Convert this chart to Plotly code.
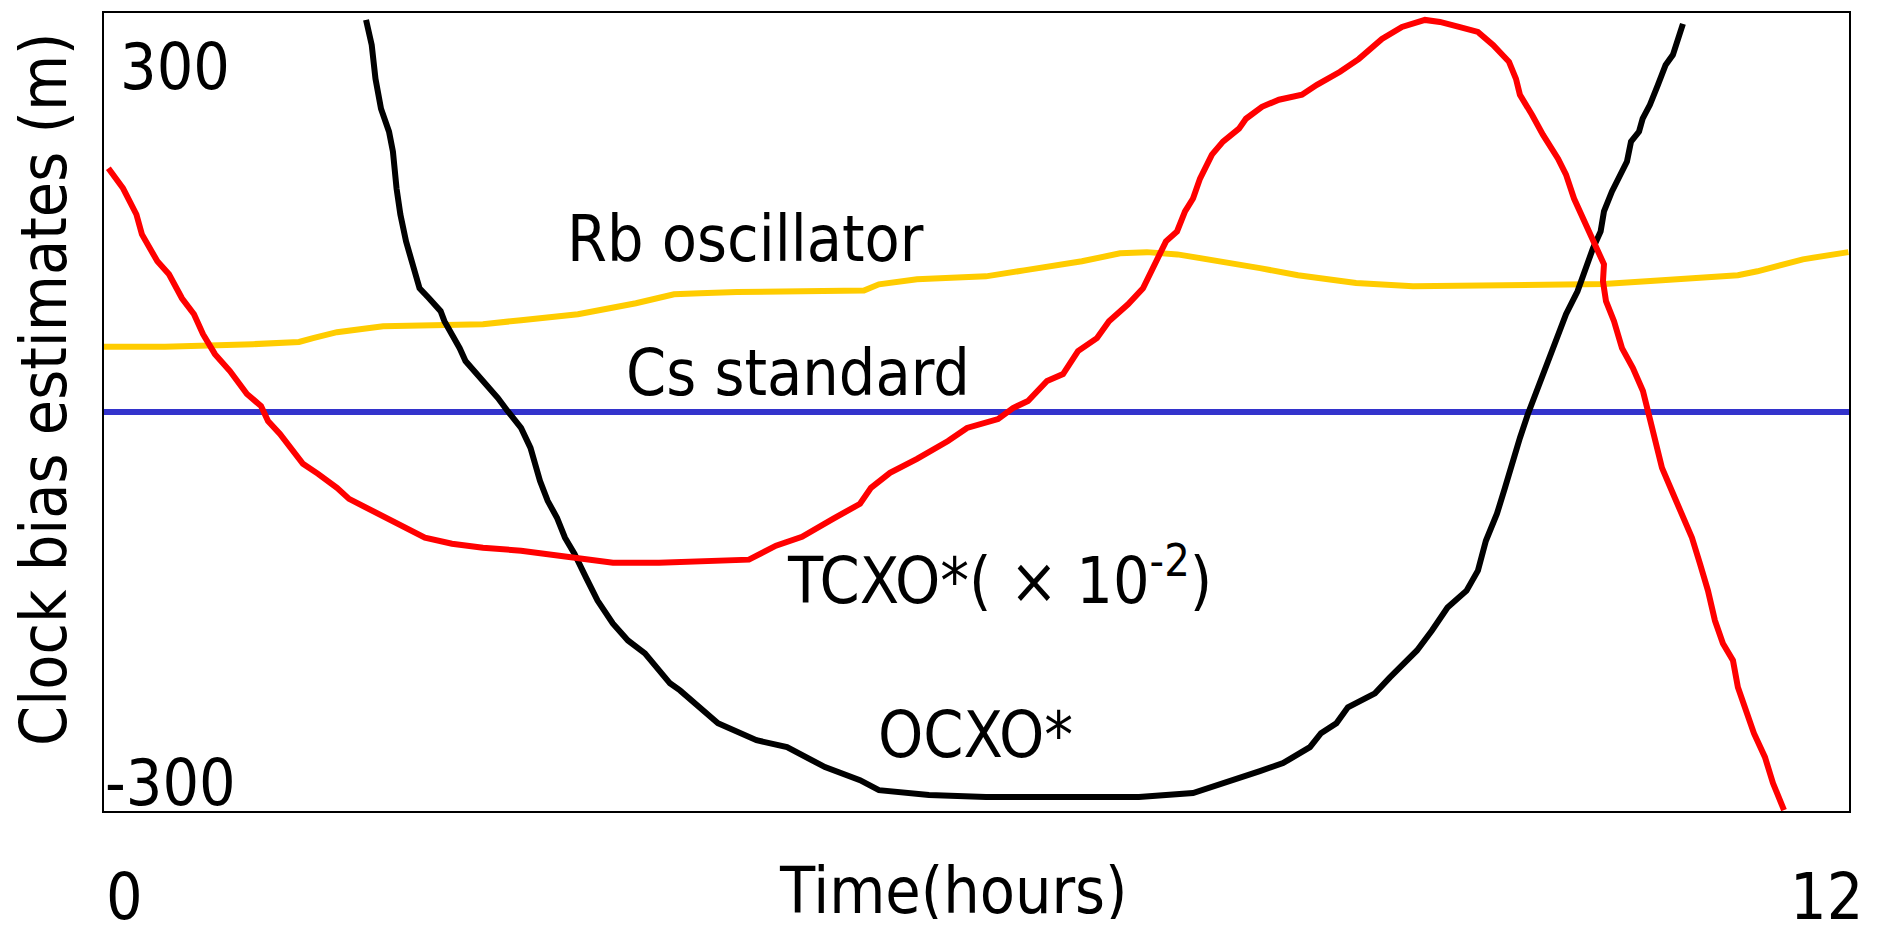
import plotly.graph_objects as go

# ---- data (hours, metres) ----
tcxo_t = [0.030, 0.131, 0.223, 0.261, 0.367, 0.447, 0.536, 0.619, 0.681, 0.763, 0.866, 0.983, 1.080, 1.128,
          1.210, 1.286, 1.368, 1.472, 1.602, 1.685, 1.815, 1.946, 2.077, 2.207, 2.393, 2.606, 2.868, 3.232,
          3.500, 3.817, 4.098, 4.435, 4.621, 4.800, 5.013, 5.199, 5.274, 5.405, 5.591, 5.804, 5.935, 6.148,
          6.251, 6.354, 6.485, 6.595, 6.698, 6.828, 6.911, 7.042, 7.145, 7.227, 7.303, 7.379, 7.434, 7.489,
          7.537, 7.619, 7.695, 7.805, 7.853, 7.963, 8.080, 8.238, 8.341, 8.500, 8.630, 8.788, 8.926, 9.084,
          9.187, 9.318, 9.448, 9.552, 9.662, 9.710, 9.737, 9.820, 9.895, 9.999, 10.054, 10.109, 10.184,
          10.239, 10.315, 10.308, 10.329, 10.384, 10.439, 10.514, 10.583, 10.631, 10.659, 10.714, 10.790,
          10.872, 10.920, 10.975, 11.030, 11.078, 11.133, 11.202, 11.236, 11.291, 11.346, 11.422, 11.477,
          11.553]
tcxo_v = [183.2, 168.2, 148.5, 133.5, 113.3, 103.5, 85.5, 73.5, 58.5, 43.5, 30.8, 13.5, 4.5, -6.8,
          -16.5, -27.0, -39.0, -46.5, -57.0, -65.3, -72.8, -80.3, -87.0, -94.5, -99.0, -102.0, -104.3, -109.5,
          -113.3, -113.3, -112.5, -111.0, -100.5, -93.8, -80.3, -69.0, -57.0, -45.8, -35.3, -21.8, -12.0, -5.3,
          3.0, 8.3, 23.3, 28.5, 45.8, 55.5, 68.3, 81.0, 93.0, 111.0, 128.3, 135.8, 150.8, 160.5,
          175.5, 193.5, 203.3, 213.0, 220.5, 229.5, 234.8, 238.5, 246.0, 255.8, 265.5, 280.5, 289.5, 294.8,
          293.3, 289.5, 285.8, 276.0, 263.3, 250.5, 238.5, 223.5, 208.5, 190.5, 178.5, 160.5, 143.3,
          128.3, 111.0, 98.3, 83.3, 68.3, 48.0, 33.0, 15.8, -5.3, -16.5, -42.0, -61.5,
          -84.0, -94.5, -114.0, -134.3, -156.8, -174.0, -186.8, -207.0, -224.3, -241.5, -259.5, -279.0,
          -299.3]

ocxo_t = [1.802, 1.841, 1.867, 1.905, 1.960, 1.987, 2.012, 2.038, 2.077, 2.118, 2.170, 2.235, 2.315, 2.341,
          2.393, 2.446, 2.486, 2.565, 2.630, 2.709, 2.775, 2.868, 2.933, 2.998, 3.051, 3.115, 3.170, 3.235,
          3.315, 3.394, 3.499, 3.603, 3.720, 3.814, 3.892, 3.961, 4.222, 4.487, 4.697, 4.958, 5.199, 5.329,
          5.673, 6.065, 6.595, 7.117, 7.489, 7.777, 7.949, 8.108, 8.293, 8.369, 8.475, 8.554, 8.740, 8.843,
          8.947, 9.029, 9.132, 9.239, 9.370, 9.448, 9.503, 9.579, 9.634, 9.686, 9.737, 9.792, 9.844, 9.923,
          9.989, 10.054, 10.133, 10.184, 10.239, 10.292, 10.315, 10.370, 10.423, 10.473, 10.501, 10.556,
          10.581, 10.631, 10.686, 10.739, 10.789, 10.817, 10.858]
ocxo_v = [294.8, 276.0, 250.5, 228.0, 210.8, 195.8, 168.0, 148.5, 128.3, 111.0, 93.0, 85.5, 75.8, 68.3,
          58.5, 48.0, 38.3, 28.5, 21.0, 10.5, 0.8, -12.0, -27.0, -51.8, -66.8, -79.5, -94.5, -106.5,
          -124.5, -141.8, -159.0, -171.8, -181.5, -194.3, -204.0, -209.3, -234.0, -246.8, -252.0, -267.0, -276.8, -284.3,
          -288.0, -289.5, -289.5, -289.5, -286.5, -276.8, -270.0, -264.0, -252.0, -241.5, -234.0, -222.0, -211.5, -199.5,
          -189.0, -179.3, -164.3, -147.0, -134.3, -119.3, -96.8, -76.5, -57.0, -36.8, -19.5, -1.5, 13.5, 38.3,
          55.5, 73.5, 90.8, 108.0, 123.0, 135.8, 150.8, 165.8, 178.5, 188.3, 203.3, 210.8,
          220.5, 231.0, 246.0, 261.0, 268.5, 278.3, 291.8]

rb_t = [0.0, 0.419, 1.025, 1.341, 1.444, 1.602, 1.919, 2.338, 2.606, 2.868, 3.259, 3.658, 3.920, 4.098,
        4.353, 5.226, 5.329, 5.591, 6.065, 6.327, 6.725, 6.987, 7.172, 7.382, 7.695, 7.949, 8.211, 8.610,
        9.002, 9.531, 10.054, 10.315, 10.714, 11.236, 11.370, 11.683, 11.996]
rb_v = [49.0, 49.0, 51.0, 52.7, 55.7, 60.0, 64.5, 66.0, 66.0, 69.0, 73.5, 81.8, 88.5, 89.3,
        90.2, 91.3, 96.0, 99.8, 102.0, 106.5, 113.3, 119.3, 120.2, 118.5, 113.3, 108.2, 102.8, 97.0,
        94.5, 95.0, 95.3, 96.2, 99.0, 102.8, 105.8, 114.8, 120.2]

cs_t = [0.0, 12.0]
cs_v = [0.0, 0.0]

x_range = [0, 12]
y_range = [-300, 300]

FONT = "DejaVu Sans Condensed, DejaVu Sans, sans-serif"
FS = 64
LW = 6

fig = go.Figure()
fig.add_trace(go.Scatter(x=rb_t, y=rb_v, mode="lines", line=dict(color="#FFCC00", width=LW), name="Rb oscillator"))
fig.add_trace(go.Scatter(x=cs_t, y=cs_v, mode="lines", line=dict(color="#3333CC", width=LW), name="Cs standard"))
fig.add_trace(go.Scatter(x=ocxo_t, y=ocxo_v, mode="lines", line=dict(color="#000000", width=LW), name="OCXO*"))
fig.add_trace(go.Scatter(x=tcxo_t, y=tcxo_v, mode="lines", line=dict(color="#FF0000", width=LW), name="TCXO*"))

L, R, T, B = 104, 1849, 11, 811
W, H = 1878, 927


def px(xp):
    return (xp - L) / (R - L)


def py(yp):
    return (B - yp) / (B - T)


def label(text, xc, yc, angle=0, box_h=None):
    kw = {}
    if box_h is not None:
        kw["height"] = box_h
    fig.add_annotation(text=text, x=px(xc), y=py(yc), xref="paper", yref="paper",
                       xanchor="center", yanchor="middle", showarrow=False, textangle=angle,
                       font=dict(family=FONT, size=FS, color="black"), **kw)


label("Rb oscillator", 745, 238)
label("Cs standard", 798, 372)
label("TCXO*( × 10<sup>-2</sup>)", 1000, 575)
label("OCXO*", 975, 735)
label("300", 175, 65)
label("-300", 170, 783)
label("0", 124, 897, box_h=56)
label("12", 1826, 897, box_h=56)
label("Time(hours)", 953, 891, box_h=56)
label("Clock bias estimates (m)", 44, 388, angle=-90)

fig.update_xaxes(range=x_range, showgrid=False, zeroline=False, showticklabels=False, ticks="",
                 showline=True, mirror=True, linecolor="black", linewidth=2)
fig.update_yaxes(range=y_range, showgrid=False, zeroline=False, showticklabels=False, ticks="",
                 showline=True, mirror=True, linecolor="black", linewidth=2)
fig.update_layout(width=W, height=H, margin=dict(l=L, r=W - R, t=T, b=H - B, pad=0),
                  plot_bgcolor="white", paper_bgcolor="white", showlegend=False,
                  font=dict(family=FONT, size=FS, color="black"))

fig.write_html("out.html")
